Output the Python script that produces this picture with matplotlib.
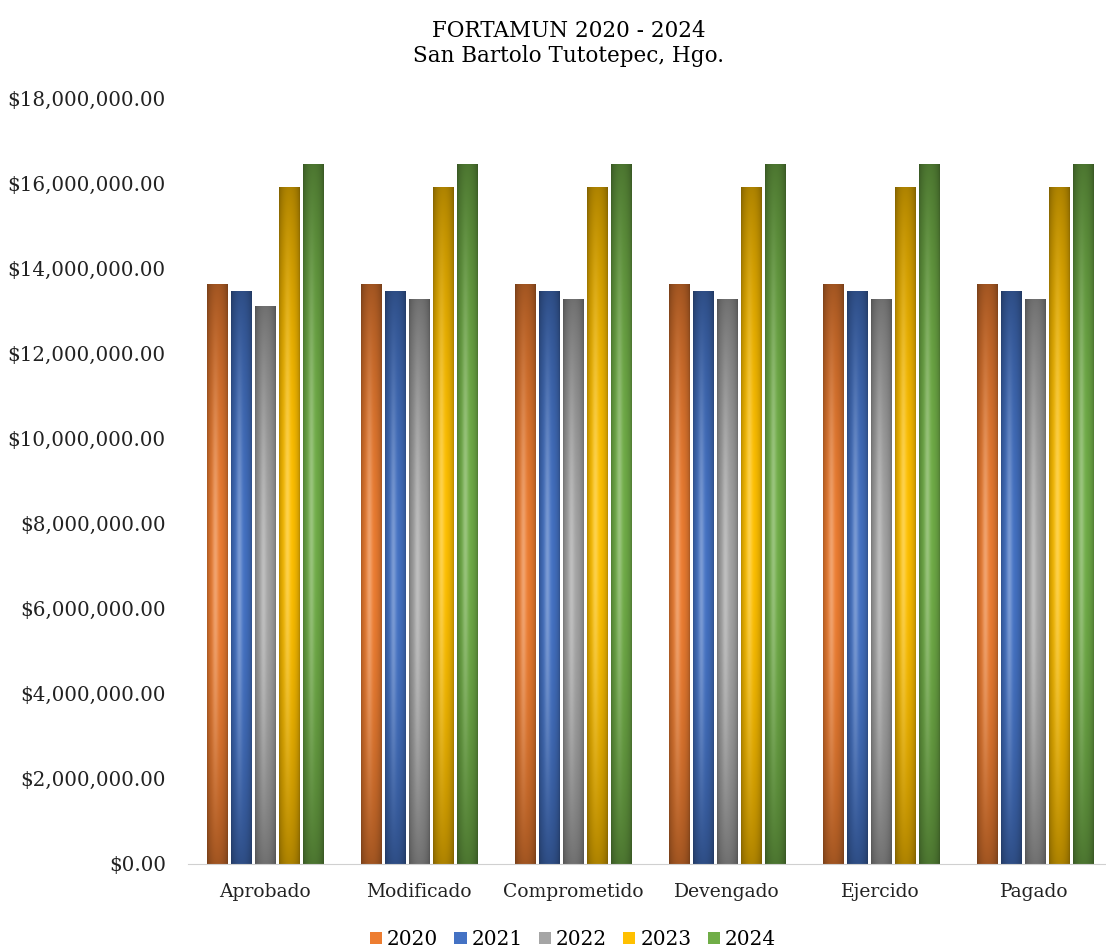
import numpy as np
import matplotlib
matplotlib.use("Agg")
import matplotlib.pyplot as plt
from matplotlib.colors import to_rgb
from matplotlib.patches import Patch
from matplotlib.ticker import FuncFormatter

categories = ["Aprobado", "Modificado", "Comprometido", "Devengado", "Ejercido", "Pagado"]
years = ["2020", "2021", "2022", "2023", "2024"]
v2020 = [13630000, 13630000, 13630000, 13630000, 13630000, 13630000]
v2021 = [13470000, 13470000, 13470000, 13470000, 13470000, 13470000]
v2022 = [13110000, 13270000, 13270000, 13270000, 13270000, 13270000]
v2023 = [15910000, 15910000, 15910000, 15910000, 15910000, 15910000]
v2024 = [16450000, 16450000, 16450000, 16450000, 16450000, 16450000]
colors = ["#ED7D31", "#4472C4", "#A5A5A5", "#FFC000", "#70AD47"]

plt.rcParams['font.family'] = ['DejaVu Serif']


def shaded(color, nx=40, ny=200):
    """RGB array giving a cylinder-like look for one bar"""
    base = np.array(to_rgb(color))
    x = np.linspace(0, 1, nx)
    t = np.linspace(0, 1, ny)[:, None]
    edge = 0.72 + 0.28 * np.sin(np.pi * x) ** 0.6
    vert = 0.68 + 0.32 * np.sin(np.pi * t) ** 0.8
    img = base[None, None, :] * (edge[None, :] * vert)[:, :, None]
    glow = 0.3 * np.exp(-((x - 0.4) / 0.14) ** 2)[None, :] * np.sin(np.pi * t) ** 1.5
    img = img + (1 - img) * glow[:, :, None]
    return np.clip(img, 0, 1)


fig = plt.figure(figsize=(11.06, 9.51), dpi=100)
ax = fig.add_axes([0.17, 0.0915, 0.835, 0.8055])

series = [v2020, v2021, v2022, v2023, v2024]
xs = np.arange(len(categories))
step = 0.156
width = 0.13
for i, vals in enumerate(series):
    offs = xs + (i - 2) * step
    bars = ax.bar(offs, vals, width, color="none", edgecolor="none")
    img = shaded(colors[i])
    for b in bars:
        x0, y0 = b.get_x(), b.get_y()
        im = ax.imshow(img, extent=[x0, x0 + b.get_width(), y0, y0 + b.get_height()],
                       origin="lower", aspect="auto", interpolation="bilinear", zorder=2)
        im.set_clip_path(b)

ax.set_xlim(-0.5, len(categories) - 0.5)
ax.set_ylim(0, 18000000)
ax.set_yticks(np.arange(0, 18000001, 2000000))
ax.yaxis.set_major_formatter(FuncFormatter(lambda v, p: "${:,.2f}".format(v)))
ax.set_xticks(xs)
ax.set_xticklabels(categories)
ax.tick_params(axis="both", length=0, colors="#222222")
ax.tick_params(axis="x", pad=14, labelsize=13.5)
ax.tick_params(axis="y", pad=16, labelsize=14.3)
for s in ["top", "right", "left"]:
    ax.spines[s].set_visible(False)
ax.spines["bottom"].set_color("#d0d0d0")

fig.text(0.514, 0.979, "FORTAMUN 2020 - 2024\nSan Bartolo Tutotepec, Hgo.",
         ha="center", va="top", fontsize=15.5, linespacing=1.2)

handles = [Patch(facecolor=c, edgecolor="none") for c in colors]
fig.legend(handles, years, loc="lower center", bbox_to_anchor=(0.518, -0.017),
           ncol=5, frameon=False, fontsize=14.5, handlelength=0.6, handleheight=0.6,
           handletextpad=0.25, columnspacing=0.8)

fig.savefig("out.png", dpi=100)
